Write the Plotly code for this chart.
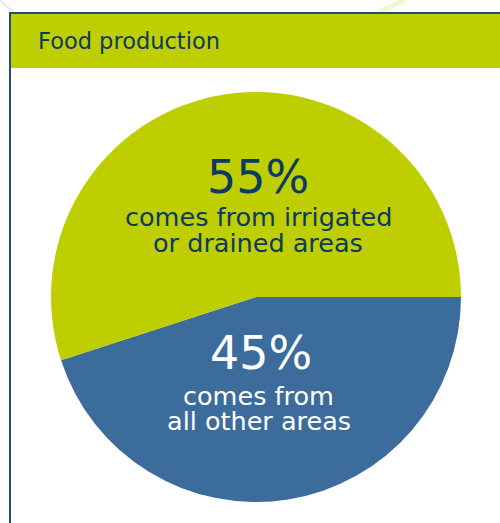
import plotly.graph_objects as go

W, H = 500, 523

title_text = "Food production"
labels = ["comes from all other areas", "comes from irrigated or drained areas"]
values = [45, 55]
pct_labels = ["45%", "55%"]
colors = ["#3B6C9C", "#BFCE00"]

GREEN = "#BFCE00"
NAVY = "#0B3A63"
BORDER = "#1F4E79"
FONT = "DejaVu Sans"

def py(p):
    return 1 - p / H

def px(p):
    return p / W

fig = go.Figure()
fig.add_trace(go.Pie(
    labels=labels,
    values=values,
    sort=False,
    direction="clockwise",
    rotation=90,
    marker=dict(colors=colors, line=dict(width=0)),
    textinfo="none",
    hoverinfo="none",
    showlegend=False,
    domain=dict(x=[px(51), px(461)], y=[py(502), py(92)]),
))

shapes = [
    # faint background decorations
    dict(type="line", xref="paper", yref="paper", x0=px(405), y0=py(0), x1=px(377), y1=py(13),
         line=dict(color="#F4F7CC", width=5), layer="below"),
    dict(type="line", xref="paper", yref="paper", x0=px(0), y0=py(0), x1=px(13), y1=py(12),
         line=dict(color="#E6E8EE", width=2), layer="below"),
    # header band
    dict(type="rect", xref="paper", yref="paper", x0=px(10), x1=px(502), y0=py(68), y1=py(13),
         fillcolor=GREEN, line=dict(width=0), layer="below"),
    # top border
    dict(type="line", xref="paper", yref="paper", x0=px(9), x1=px(502), y0=py(13), y1=py(13),
         line=dict(color=BORDER, width=2)),
    # left border
    dict(type="line", xref="paper", yref="paper", x0=px(10), x1=px(10), y0=py(12), y1=py(530),
         line=dict(color=BORDER, width=2)),
]

annotations = [
    dict(text=title_text, x=px(37), y=py(41), xanchor="left", yanchor="middle",
         font=dict(family=FONT, size=22.5, color=NAVY)),
    dict(text=pct_labels[1], x=px(258), y=py(177), xanchor="center", yanchor="middle",
         font=dict(family=FONT, size=46, color=NAVY)),
    dict(text="comes from irrigated", x=px(258), y=py(217), xanchor="center", yanchor="middle",
         font=dict(family=FONT, size=25.5, color=NAVY)),
    dict(text="or drained areas", x=px(258), y=py(243), xanchor="center", yanchor="middle",
         font=dict(family=FONT, size=25.5, color=NAVY)),
    dict(text=pct_labels[0], x=px(261), y=py(353), xanchor="center", yanchor="middle",
         font=dict(family=FONT, size=46, color="white")),
    dict(text="comes from", x=px(258), y=py(396), xanchor="center", yanchor="middle",
         font=dict(family=FONT, size=25.5, color="white")),
    dict(text="all other areas", x=px(259), y=py(421), xanchor="center", yanchor="middle",
         font=dict(family=FONT, size=25.5, color="white")),
]
for a in annotations:
    a.update(xref="paper", yref="paper", showarrow=False, borderpad=0)

fig.update_layout(
    width=W, height=H,
    margin=dict(l=0, r=0, t=0, b=0),
    paper_bgcolor="white",
    plot_bgcolor="white",
    shapes=shapes,
    annotations=annotations,
)

fig.write_html("out.html", config={"displayModeBar": False},
               post_script="document.body.style.margin='0';document.body.style.overflow='hidden';")
